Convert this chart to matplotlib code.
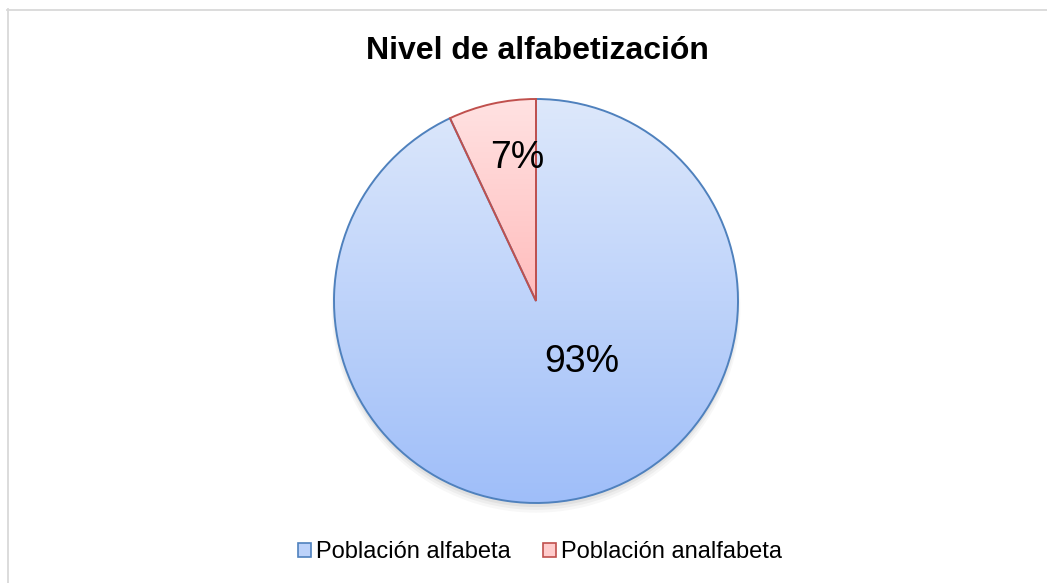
"""Nivel de alfabetización -- pie chart with Excel-style gradient fills."""

import matplotlib

matplotlib.use("Agg")
import matplotlib.pyplot as plt
import numpy as np
from matplotlib.colors import LinearSegmentedColormap
from matplotlib.patches import Patch

plt.rcParams["font.family"] = ["Liberation Sans", "DejaVu Sans"]

TITLE = "Nivel de alfabetización"
CATEGORIES = ["Población alfabeta", "Población analfabeta"]
VALUES = [93, 7]
LABELS = ["93%", "7%"]

EDGE_COLORS = ["#4f81bd", "#c0504d"]
GRAD_TOP = ["#dde8fb", "#ffe2e2"]
GRAD_BOTTOM = ["#9fbef9", "#ffbcbc"]
LEGEND_FILL = ["#bcd2fa", "#ffcccc"]

W, H = 1047, 583
CX, CY, R = 536, 301, 202
LIM = 1.06

fig = plt.figure(figsize=(W / 100, H / 100), dpi=100)

# chart-area border: only top and left edges are visible in the crop
fig.add_artist(plt.Line2D([7 / W, 1.0], [1 - 9.5 / H, 1 - 9.5 / H],
                          color="#d9d9d9", lw=1.3, transform=fig.transFigure))
fig.add_artist(plt.Line2D([7.5 / W, 7.5 / W], [0.0, 1 - 9 / H],
                          color="#d9d9d9", lw=1.3, transform=fig.transFigure))

half = R * LIM
ax = fig.add_axes([(CX - half) / W, (H - CY - half) / H, 2 * half / W, 2 * half / H])
ax.axis("off")

# soft shadow under the pie
for k, a in enumerate([0.05, 0.04, 0.03]):
    sh = plt.Circle((0.0, -0.02 - 0.008 * k), 1.0 + 0.006 * k, color="#000000",
                    alpha=a, lw=0, zorder=0)
    ax.add_patch(sh)

wedges, _ = ax.pie(VALUES, startangle=90, counterclock=False, radius=1.0,
                   colors=["none", "none"],
                   wedgeprops=dict(linewidth=1.4, zorder=3))

for i, w in enumerate(wedges):
    w.set_edgecolor(EDGE_COLORS[i])
    w.set_facecolor("none")
    w.set_zorder(3)
    cmap = LinearSegmentedColormap.from_list(f"g{i}", [GRAD_BOTTOM[i], GRAD_TOP[i]])
    grad = np.linspace(0, 1, 256).reshape(-1, 1)
    ext = (-1, 1, -1, 1) if i == 0 else (-1, 1, 0, 1)
    im = ax.imshow(grad, cmap=cmap, origin="lower", extent=ext, aspect="auto",
                   zorder=2, interpolation="bilinear")
    im.set_clip_path(w)

ax.set_xlim(-LIM, LIM)
ax.set_ylim(-LIM, LIM)
ax.set_aspect("equal")

# percentage labels
fig.text(582 / W, 1 - 362 / H, LABELS[0], fontsize=27, ha="center", va="center")
fig.text(517 / W, 1 - 158 / H, LABELS[1], fontsize=27, ha="center", va="center")

fig.text(537 / W, 1 - 51 / H, TITLE, fontsize=23, fontweight="bold",
         ha="center", va="center")

handles = [Patch(facecolor=LEGEND_FILL[i], edgecolor=EDGE_COLORS[i], lw=1.2,
                 label=CATEGORIES[i]) for i in range(2)]
fig.legend(handles=handles, loc="center", bbox_to_anchor=(540 / W, 1 - 552 / H),
           ncol=2, frameon=False, fontsize=17, handlelength=0.55, handleheight=0.55,
           handletextpad=0.2, columnspacing=1.4, borderpad=0)

fig.savefig("out.png", dpi=100)
